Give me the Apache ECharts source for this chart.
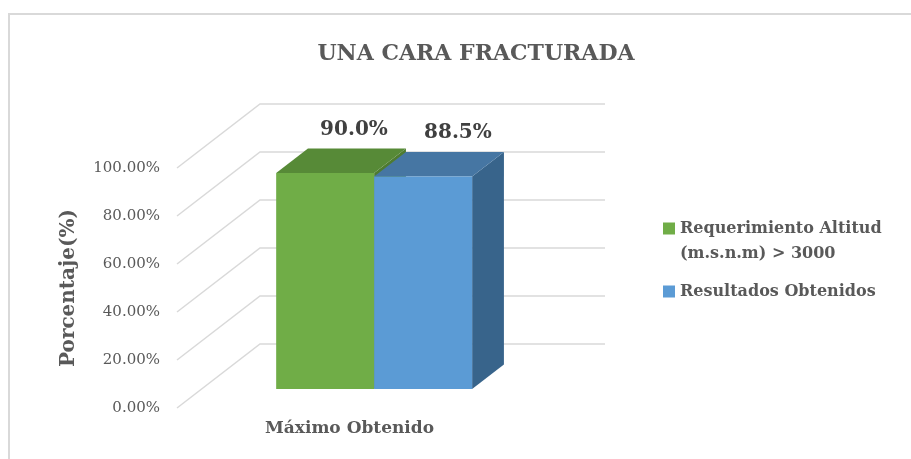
<!DOCTYPE html>
<html>
<head>
<meta charset="utf-8">
<script src="https://cdn.jsdelivr.net/npm/echarts@6/dist/echarts.min.js"></script>
<style>html,body{margin:0;padding:0;background:#fff}#c{width:911px;height:459px}</style>
</head>
<body>
<div id="c"></div>
<script>
// ---- data ----
const categories = ['Máximo Obtenido'];
const seriesNames = ['Requerimiento Altitud (m.s.n.m) > 3000', 'Resultados Obtenidos'];
const requerimiento = [90.0];
const resultados = [88.5];
const yTicks = [0, 20, 40, 60, 80, 100];
const titleText = 'UNA CARA FRACTURADA';
const yAxisName = 'Porcentaje(%)';

// ---- style constants ----
const FONT = 'DejaVu Serif';
const FLOOR_DX = 83, FLOOR_DY = -64;     // depth of the 3D floor
const BAR_FRONT = 0.297, BAR_BACK = 0.68; // bar depth position as fraction of floor
const BAR_FRAC = 0.284;                    // bar width as fraction of category band
const palettes = [
  {front: '#70AD47', top: '#578A37', side: '#4E7B31'},
  {front: '#5B9BD5', top: '#4676A3', side: '#38648B'}
];

function barRenderer(idx) {
  return function (params, api) {
    const cat = api.value(0), v = api.value(1);
    const base = api.coord([cat, 0]);
    const top = api.coord([cat, v]);
    const band = api.size([1, 0])[0];
    const w = band * BAR_FRAC;
    const fdx = FLOOR_DX * BAR_FRONT, fdy = FLOOR_DY * BAR_FRONT;
    const bdx = FLOOR_DX * (BAR_BACK - BAR_FRONT), bdy = FLOOR_DY * (BAR_BACK - BAR_FRONT);
    const x0 = base[0] + (idx === 0 ? -w : 0) + fdx;
    const x1 = x0 + w;
    const yT = top[1] + fdy, yB = base[1] + fdy;
    const pal = palettes[idx];
    return {
      type: 'group',
      children: [
        {type: 'polygon', shape: {points: [[x1, yT], [x1 + bdx, yT + bdy], [x1 + bdx, yB + bdy], [x1, yB]]}, style: {fill: pal.side}},
        {type: 'polygon', shape: {points: [[x0, yT], [x1, yT], [x1 + bdx, yT + bdy], [x0 + bdx, yT + bdy]]}, style: {fill: pal.top}},
        {type: 'rect', shape: {x: x0, y: yT, width: w, height: yB - yT}, style: {fill: pal.front}},
        {type: 'text', x: (x0 + x1) / 2 + bdx + (idx === 0 ? -3 : 3), y: yT + bdy - 9,
          style: {text: v.toFixed(1) + '%', align: 'center', verticalAlign: 'bottom',
            font: 'bold 20px "' + FONT + '"', fill: '#404040'}}
      ]
    };
  };
}

const chart = echarts.init(document.getElementById('c'), null, {renderer: 'canvas'});
chart.setOption({
  backgroundColor: '#ffffff',
  animation: false,
  graphic: [{type: 'rect', shape: {x: 9, y: 14, width: 1000, height: 1000},
    style: {fill: 'none', stroke: '#D9D9D9', lineWidth: 2}, silent: true}],
  title: {
    text: titleText, left: 471, top: 38, textAlign: 'center',
    textStyle: {fontFamily: FONT, fontWeight: 'bold', fontSize: 22, color: '#595959'}
  },
  legend: {
    orient: 'vertical', left: 658, top: 186, itemGap: 13,
    itemWidth: 12, itemHeight: 12, icon: 'rect',
    data: seriesNames,
    formatter: function (n) { return n === seriesNames[0] ? '\n' + n.replace(' (', '\n(') : n; },
    textStyle: {fontFamily: FONT, fontWeight: 'bold', fontSize: 16, color: '#595959', lineHeight: 25}
  },
  grid: {left: 177, right: 389, top: 168, bottom: 51},
  xAxis: {
    type: 'category', data: categories,
    axisLine: {show: false}, axisTick: {show: false}, splitLine: {show: false},
    axisLabel: {margin: 12, fontFamily: FONT, fontWeight: 'bold', fontSize: 17, color: '#595959'}
  },
  yAxis: {
    type: 'value', min: 0, max: 100, interval: 20,
    name: yAxisName, nameLocation: 'middle', nameGap: 98, nameRotate: 90,
    nameTextStyle: {fontFamily: FONT, fontWeight: 'bold', fontSize: 20, color: '#595959'},
    axisLine: {show: false}, axisTick: {show: false}, splitLine: {show: false},
    axisLabel: {margin: 17, fontFamily: FONT, fontSize: 15, color: '#595959',
      formatter: function (v) { return v.toFixed(2) + '%'; }}
  },
  series: [
    {
      type: 'custom', name: 'grid3d', silent: true, z: 1,
      data: yTicks.map(function (t) { return [0, t]; }),
      renderItem: function (params, api) {
        const cs = params.coordSys;
        const y = api.coord([0, api.value(1)])[1];
        return {type: 'polyline', shape: {points: [[cs.x, y], [cs.x + FLOOR_DX, y + FLOOR_DY], [cs.x + cs.width + FLOOR_DX, y + FLOOR_DY]]},
          style: {stroke: '#D9D9D9', lineWidth: 1.5, fill: null}};
      }
    },
    {
      type: 'custom', name: seriesNames[0], z: 2, itemStyle: {color: palettes[0].front},
      data: requerimiento.map(function (v, i) { return [i, v]; }),
      renderItem: barRenderer(0)
    },
    {
      type: 'custom', name: seriesNames[1], z: 3, itemStyle: {color: palettes[1].front},
      data: resultados.map(function (v, i) { return [i, v]; }),
      renderItem: barRenderer(1)
    }
  ]
});
</script>
</body>
</html>
